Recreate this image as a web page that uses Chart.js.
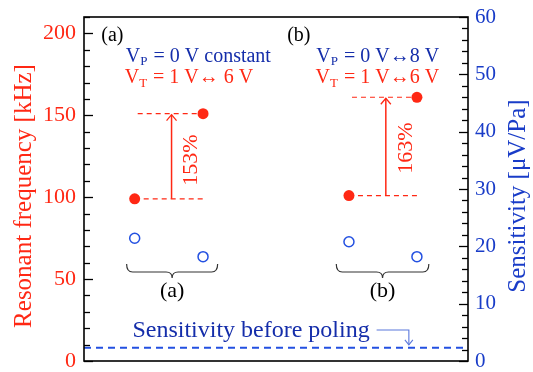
<!DOCTYPE html>
<html><head><meta charset="utf-8">
<script src="https://cdn.jsdelivr.net/npm/chart.js@4/dist/chart.umd.min.js"></script>
<style>html,body{margin:0;padding:0;background:#fff}#w{width:533px;height:372px}</style>
</head><body><div id="w"><canvas id="c" width="533" height="372"></canvas></div>
<script>
// ---- data ----
const groups = ['(a)', '(b)'];
const xPositions = [13.2, 31.0, 69.0, 86.7];
const frequencyKHz = [99, 151, 101, 161];
const sensitivityUVPa = [21.4, 18.2, 20.8, 18.2];
const sensitivityBeforePoling = 2.3;
const increaseLabels = ['153%', '163%'];
const freqTicks = [0, 50, 100, 150, 200];
const sensTicks = [0, 10, 20, 30, 40, 50, 60];

// ---- style ----
const SERIF = '"Liberation Serif", "Times New Roman", serif';
const RED = 'rgb(255,40,20)';
const BLUE_TXT = 'rgb(20,45,170)';
const BLUE_TICK = 'rgb(25,60,200)';
const BLUE_PT = 'rgb(35,80,225)';

// annotation placement (data units: x 0-100, y in kHz)
const arrowX = [22.8, 78.6];
const pctPos = [{x: 27.8, y: 122.7}, {x: 84.0, y: 130}];
const braces = [{x1: 11.1, x2: 34.8, y: 59.2}, {x1: 65.7, x2: 89.8, y: 59.2}];
const braceLabelY = 39;
const headerText = [
  {x: 4.5, y: 195.5, color: 'black', parts: [{t: '(a)'}]},
  {x: 10.9, y: 182.8, color: BLUE_TXT, parts: [{t: 'V'}, {t: 'P', sub: true}, {t: ' = 0 V constant'}]},
  {x: 10.6, y: 169.5, color: RED, parts: [{t: 'V'}, {t: 'T', sub: true}, {t: ' = 1 V\u2194 6 V'}]},
  {x: 52.9, y: 195.5, color: 'black', parts: [{t: '(b)'}]},
  {x: 60.5, y: 182.8, color: BLUE_TXT, parts: [{t: 'V'}, {t: 'P', sub: true}, {t: ' = 0 V\u21948 V'}]},
  {x: 60.3, y: 169.5, color: RED, parts: [{t: 'V'}, {t: 'T', sub: true}, {t: ' = 1 V\u21946 V'}]}
];
const polingText = {x: 12.6, y: 14.6, text: 'Sensitivity before poling'};
const polingArrow = {x1: 76.2, x2: 84.6, y1: 18.9, y2: 9.8};

function rich(ctx, parts, x, y, size, color) {
  ctx.fillStyle = color; ctx.textBaseline = 'alphabetic'; ctx.textAlign = 'left';
  let cx = x;
  for (const p of parts) {
    const fs = p.sub ? size * 0.65 : size;
    ctx.font = fs + 'px ' + SERIF;
    ctx.fillText(p.t, cx, p.sub ? y + size * 0.18 : y);
    cx += ctx.measureText(p.t).width + (p.sub ? 1 : 0);
  }
}

function arrowHead(ctx, x, y, dir, w, h) { // dir -1 up, +1 down
  ctx.beginPath();
  ctx.moveTo(x - w, y - dir * h);
  ctx.lineTo(x, y);
  ctx.lineTo(x + w, y - dir * h);
  ctx.stroke();
}

function fixAxis(width) {
  return s => { s.width = width; s.paddingTop = 0; s.paddingBottom = 0; };
}

const decor = {
  id: 'decor',
  beforeDatasetsDraw(chart) {
    const ctx = chart.ctx, xs = chart.scales.x, ys = chart.scales.y;
    ctx.save();
    ctx.strokeStyle = RED; ctx.lineWidth = 1.2;
    for (let g = 0; g < groups.length; g++) {
      const i1 = 2 * g, i2 = 2 * g + 1;
      const x1 = xs.getPixelForValue(xPositions[i1]), x2 = xs.getPixelForValue(xPositions[i2]);
      const yl = ys.getPixelForValue(frequencyKHz[i1]), yh = ys.getPixelForValue(frequencyKHz[i2]);
      ctx.setLineDash([5, 4]);
      ctx.beginPath(); ctx.moveTo(x1, yl); ctx.lineTo(x2, yl); ctx.stroke();
      ctx.beginPath(); ctx.moveTo(x1 + 3, yh); ctx.lineTo(x2, yh); ctx.stroke();
      ctx.setLineDash([]);
      const ax = xs.getPixelForValue(arrowX[g]);
      ctx.lineWidth = 1.5;
      ctx.beginPath(); ctx.moveTo(ax, yl); ctx.lineTo(ax, yh + 1); ctx.stroke();
      ctx.lineWidth = 1.3;
      arrowHead(ctx, ax, yh + 1, -1, 5, 6);
      ctx.lineWidth = 1.2;
    }
    ctx.restore();
  },
  afterDraw(chart) {
    const ctx = chart.ctx, a = chart.chartArea;
    const xs = chart.scales.x, ys = chart.scales.y, y1 = chart.scales.y1;
    ctx.save();
    // frame
    ctx.strokeStyle = '#000'; ctx.lineWidth = 1.6;
    ctx.strokeRect(a.left, a.top, a.right - a.left, a.bottom - a.top);
    // inward ticks
    ctx.lineWidth = 1.3;
    for (let v = ys.min; v <= ys.max + 1e-9; v += 10) {
      const py = Math.round(ys.getPixelForValue(v)) + 0.5;
      const len = (v % 50 === 0) ? 9 : 6;
      ctx.beginPath(); ctx.moveTo(a.left, py); ctx.lineTo(a.left + len, py); ctx.stroke();
    }
    for (let v = y1.min; v <= y1.max + 1e-9; v += 2) {
      const py = Math.round(y1.getPixelForValue(v)) + 0.5;
      const len = (v % 10 === 0) ? 9 : 6;
      ctx.beginPath(); ctx.moveTo(a.right, py); ctx.lineTo(a.right - len, py); ctx.stroke();
    }
    // axis titles
    const cy = (a.top + a.bottom) / 2 + 7;
    ctx.font = '25px ' + SERIF; ctx.textAlign = 'center'; ctx.textBaseline = 'middle';
    ctx.save(); ctx.translate(24, cy); ctx.rotate(-Math.PI / 2);
    ctx.fillStyle = RED; ctx.fillText('Resonant frequency [kHz]', 0, 0); ctx.restore();
    ctx.save(); ctx.translate(518, cy); ctx.rotate(-Math.PI / 2);
    ctx.fillStyle = BLUE_TICK; ctx.fillText('Sensitivity [\u03bcV/Pa]', 0, 0); ctx.restore();
    // header texts
    for (const h of headerText) {
      rich(ctx, h.parts, xs.getPixelForValue(h.x), ys.getPixelForValue(h.y), 20, h.color);
    }
    // percent labels
    ctx.fillStyle = RED; ctx.font = '22px ' + SERIF; ctx.textAlign = 'center'; ctx.textBaseline = 'middle';
    for (let g = 0; g < groups.length; g++) {
      ctx.save();
      ctx.translate(xs.getPixelForValue(pctPos[g].x), ys.getPixelForValue(pctPos[g].y));
      ctx.rotate(-Math.PI / 2);
      ctx.fillText(increaseLabels[g], 0, 0);
      ctx.restore();
    }
    // braces
    ctx.strokeStyle = '#333'; ctx.lineWidth = 1.2;
    for (let g = 0; g < braces.length; g++) {
      const b = braces[g];
      const bx1 = xs.getPixelForValue(b.x1), bx2 = xs.getPixelForValue(b.x2), by = ys.getPixelForValue(b.y);
      const m = (bx1 + bx2) / 2, d = 8, r = 6, tip = 6;
      ctx.beginPath();
      ctx.moveTo(bx1, by);
      ctx.quadraticCurveTo(bx1, by + d, bx1 + r, by + d);
      ctx.lineTo(m - r, by + d);
      ctx.quadraticCurveTo(m, by + d, m, by + d + tip);
      ctx.quadraticCurveTo(m, by + d, m + r, by + d);
      ctx.lineTo(bx2 - r, by + d);
      ctx.quadraticCurveTo(bx2, by + d, bx2, by);
      ctx.stroke();
      ctx.fillStyle = '#000'; ctx.font = '22px ' + SERIF; ctx.textAlign = 'center'; ctx.textBaseline = 'alphabetic';
      ctx.fillText(groups[g], m, ys.getPixelForValue(braceLabelY));
    }
    // poling text and arrow
    ctx.fillStyle = BLUE_TXT; ctx.font = '24px ' + SERIF; ctx.textAlign = 'left'; ctx.textBaseline = 'alphabetic';
    ctx.fillText(polingText.text, xs.getPixelForValue(polingText.x), ys.getPixelForValue(polingText.y));
    ctx.strokeStyle = 'rgb(90,120,220)'; ctx.lineWidth = 1.1;
    const px1 = xs.getPixelForValue(polingArrow.x1), px2 = xs.getPixelForValue(polingArrow.x2);
    const py1 = ys.getPixelForValue(polingArrow.y1), py2 = ys.getPixelForValue(polingArrow.y2);
    ctx.beginPath(); ctx.moveTo(px1, py1); ctx.lineTo(px2, py1); ctx.lineTo(px2, py2); ctx.stroke();
    arrowHead(ctx, px2, py2, 1, 4, 5);
    ctx.restore();
  }
};

new Chart(document.getElementById('c'), {
  data: {
    datasets: [
      {type: 'scatter', data: xPositions.map((x, i) => ({x, y: frequencyKHz[i]})), yAxisID: 'y',
       pointRadius: 5.5, pointBackgroundColor: RED, pointBorderWidth: 0, showLine: false},
      {type: 'scatter', data: xPositions.map((x, i) => ({x, y: sensitivityUVPa[i]})), yAxisID: 'y1',
       pointRadius: 5, pointBackgroundColor: 'rgba(255,255,255,0)', pointBorderColor: BLUE_PT, pointBorderWidth: 1.5, showLine: false},
      {type: 'line', data: [{x: 0, y: sensitivityBeforePoling}, {x: 100, y: sensitivityBeforePoling}], yAxisID: 'y1',
       borderColor: BLUE_PT, borderWidth: 2, borderDash: [7, 5], pointRadius: 0, fill: false}
    ]
  },
  options: {
    responsive: false, animation: false, devicePixelRatio: 1,
    layout: {padding: {top: 17, bottom: 11, left: 0, right: 0}},
    plugins: {legend: {display: false}, tooltip: {enabled: false}},
    scales: {
      x: {type: 'linear', min: 0, max: 100, display: false},
      y: {type: 'linear', position: 'left', min: 0, max: 210,
          afterBuildTicks: s => { s.ticks = freqTicks.map(v => ({value: v})); },
          ticks: {color: RED, font: {family: SERIF, size: 22, lineHeight: 1}, padding: 8},
          grid: {display: false, drawTicks: false}, border: {display: false},
          afterFit: fixAxis(84)},
      y1: {type: 'linear', position: 'right', min: 0, max: 60,
          afterBuildTicks: s => { s.ticks = sensTicks.map(v => ({value: v})); },
          ticks: {color: BLUE_TICK, font: {family: SERIF, size: 21, lineHeight: 1}, padding: 7},
          grid: {display: false, drawTicks: false}, border: {display: false},
          afterFit: fixAxis(65)}
    }
  },
  plugins: [decor]
});
</script></body></html>
